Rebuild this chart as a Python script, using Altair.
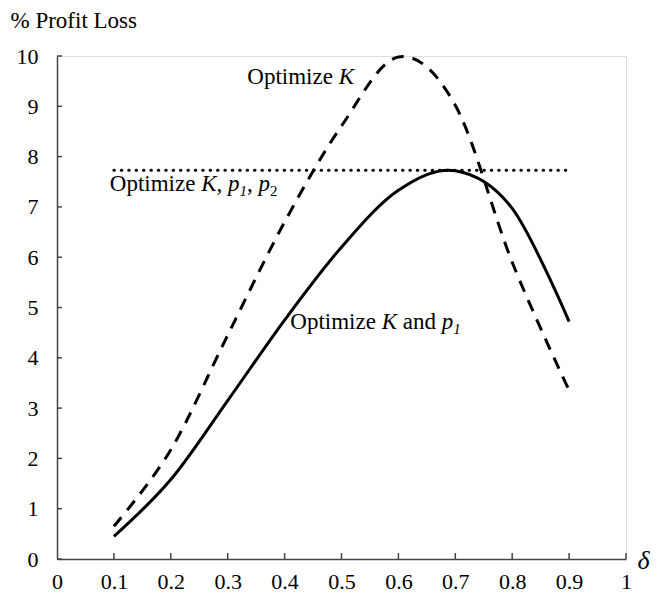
import altair as alt
import pandas as pd

# ---- data ----
delta = [0.1, 0.2, 0.3, 0.4, 0.5, 0.6, 0.7, 0.8, 0.9]
optimize_k = [0.65, 2.17, 4.45, 6.70, 8.61, 9.98, 9.02, 5.90, 3.35]
optimize_k_p1 = [0.45, 1.58, 3.15, 4.75, 6.20, 7.33, 7.72, 6.97, 4.72]
optimize_k_p1_p2 = [7.73, 7.73, 7.73, 7.73, 7.73, 7.73, 7.73, 7.73, 7.73]
x_ticks = [0, 0.1, 0.2, 0.3, 0.4, 0.5, 0.6, 0.7, 0.8, 0.9, 1]
y_ticks = [0, 1, 2, 3, 4, 5, 6, 7, 8, 9, 10]

FONT = "Liberation Serif"
AX = "#444444"
W, H = 569, 503

X = alt.X(
    "delta:Q",
    scale=alt.Scale(domain=[0, 1], nice=False, zero=False),
    axis=alt.Axis(
        values=x_ticks, format=".1~f", ticks=False, grid=False,
        domainColor=AX, domainWidth=1.5,
        labelFont=FONT, labelFontSize=22, labelColor="black",
        labelPadding=12, labelFlush=False, labelOverlap=False, labelBound=False,
        title="δ", titleFont=FONT, titleFontSize=26, titleFontStyle="italic",
        titleFontWeight="normal", titleColor="black",
        titleX=580, titleY=9, titleAlign="left", titleBaseline="alphabetic",
    ),
)
Y = alt.Y(
    "value:Q",
    scale=alt.Scale(domain=[0, 10], nice=False, zero=False),
    axis=alt.Axis(
        values=y_ticks, format="d", ticks=False, grid=False,
        domainColor=AX, domainWidth=1.5,
        labelFont=FONT, labelFontSize=22, labelColor="black",
        labelPadding=19, labelOverlap=False, labelBound=False,
        title="% Profit Loss", titleFont=FONT, titleFontSize=23,
        titleFontWeight="normal", titleColor="black", titleAngle=0,
        titleX=-47, titleY=-29, titleAlign="left", titleBaseline="alphabetic",
    ),
)


def series(vals, **style):
    df = pd.DataFrame({"delta": delta, "value": vals})
    return alt.Chart(df).mark_line(color="black", **style).encode(x=X, y=Y)


line_k = series(optimize_k, strokeWidth=3, strokeDash=[12, 9], interpolate="cardinal")
line_kp1 = series(optimize_k_p1, strokeWidth=3, interpolate="cardinal")
line_kp1p2 = series(optimize_k_p1_p2, strokeWidth=3, strokeDash=[0.5, 6.9], strokeCap="round")

y_tick_marks = alt.Chart(pd.DataFrame({"value": y_ticks})).mark_rule(
    color=AX, strokeWidth=1.5
).encode(y=Y, x=alt.value(0), x2=alt.value(5))
x_tick_marks = alt.Chart(pd.DataFrame({"delta": x_ticks[1:]})).mark_rule(
    color=AX, strokeWidth=1.5
).encode(x=X, y=alt.value(H), y2=alt.value(H - 6))


def seg(x, y, text, dx=0, dy=0, italic=False, size=23):
    df = pd.DataFrame({"delta": [x], "value": [y], "label": [text]})
    return alt.Chart(df).mark_text(
        font=FONT, fontSize=size, fontStyle="italic" if italic else "normal",
        align="left", baseline="alphabetic", color="black", dx=dx, dy=dy,
    ).encode(x=X, y=Y, text="label:N")


# annotation anchors (data coords)
a1 = (0.3345, 9.45)
a2 = (0.0928, 7.32)
a3 = (0.410, 4.58)

labels = [
    seg(*a1, "Optimize"), seg(*a1, "K", dx=91.4, italic=True),
    seg(*a2, "Optimize"), seg(*a2, "K", dx=91.4, italic=True),
    seg(*a2, ",", dx=106.7), seg(*a2, "p", dx=118.2, italic=True),
    seg(*a2, "1", dx=129.7, dy=5, italic=True, size=15),
    seg(*a2, ",", dx=137.2), seg(*a2, "p", dx=148.7, italic=True),
    seg(*a2, "2", dx=160.2, dy=5, size=15),
    seg(*a3, "Optimize"), seg(*a3, "K", dx=91.4, italic=True),
    seg(*a3, "and", dx=112.5), seg(*a3, "p", dx=151.4, italic=True),
    seg(*a3, "1", dx=162.9, dy=5, italic=True, size=15),
]

chart = alt.layer(
    line_k, line_kp1, line_kp1p2, y_tick_marks, x_tick_marks, *labels
).properties(
    width=W, height=H,
    autosize=alt.AutoSizeParams(type="none"),
    padding={"left": 49, "top": 48, "right": 30, "bottom": 35},
).configure_view(stroke=None).configure(background="white")

chart.save("out.html", embed_options={"renderer": "svg", "actions": False})
